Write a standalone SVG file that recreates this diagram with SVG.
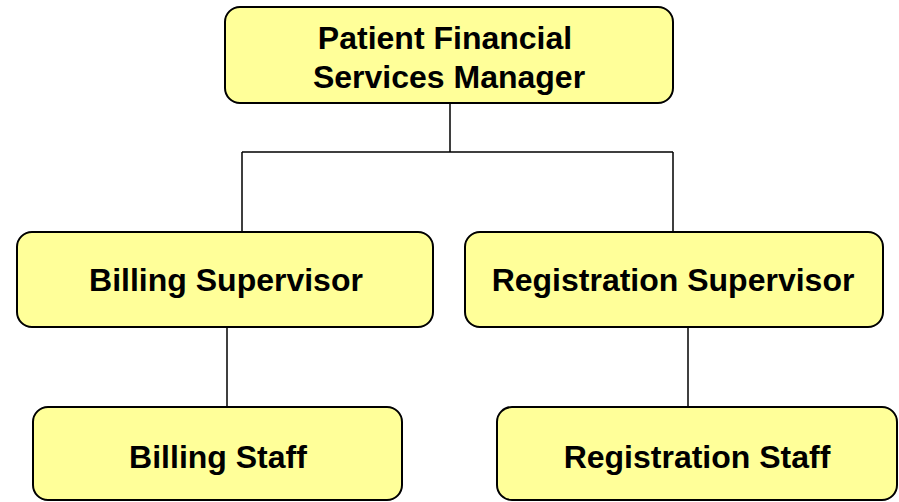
<svg xmlns="http://www.w3.org/2000/svg" width="899" height="502" viewBox="0 0 899 502">
  <style>
    .box { fill: #FFFF99; stroke: #000; stroke-width: 2; }
    .lbl { font-family: "Liberation Sans", Arial, sans-serif; font-weight: bold; font-size: 32px; fill: #000; text-anchor: middle; }
    .wire { stroke: #000; stroke-width: 1.5; fill: none; }
  </style>
  <rect width="899" height="502" fill="#fff"/>
  <g id="connectors">
    <path class="wire" d="M450 103 V152 M242 152 H673 M242 152 V232 M673 152 V232"/>
    <path class="wire" d="M227 327 V407"/>
    <path class="wire" d="M688 327 V407"/>
  </g>
  <g id="manager">
    <rect class="box" x="225" y="7" width="448" height="96" rx="15"/>
    <text class="lbl" x="445" y="49">Patient Financial</text>
    <text class="lbl" x="449" y="88">Services Manager</text>
  </g>
  <g id="billing-supervisor">
    <rect class="box" x="17" y="232" width="416" height="95" rx="15"/>
    <text class="lbl" x="226" y="291">Billing Supervisor</text>
  </g>
  <g id="registration-supervisor">
    <rect class="box" x="465" y="232" width="418" height="95" rx="15"/>
    <text class="lbl" x="673" y="291">Registration Supervisor</text>
  </g>
  <g id="billing-staff">
    <rect class="box" x="33" y="407" width="369" height="93" rx="15"/>
    <text class="lbl" x="218" y="468">Billing Staff</text>
  </g>
  <g id="registration-staff">
    <rect class="box" x="497" y="407" width="400" height="93" rx="15"/>
    <text class="lbl" x="697" y="468">Registration Staff</text>
  </g>
</svg>
